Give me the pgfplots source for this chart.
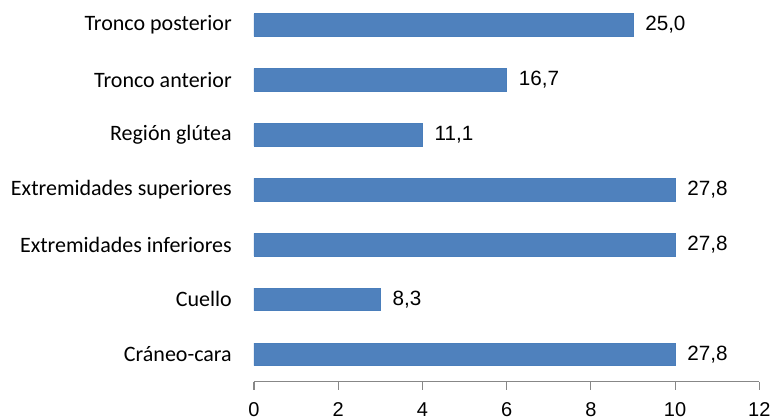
\documentclass[border=0pt]{standalone}
\usepackage{fontspec}
\setmainfont{Liberation Sans}
\newfontfamily\carlito{Carlito}
\usepackage{pgfplots}
\pgfplotsset{compat=1.18}
\definecolor{barblue}{HTML}{4F81BD}
\definecolor{baredge}{HTML}{4A7EBB}
\definecolor{axgray}{HTML}{878787}
\begin{document}
\begin{tikzpicture}
\useasboundingbox (-190.5pt,-27.975pt) rectangle (389.25pt,286.275pt);
\begin{axis}[
  at={(0,0)}, anchor=south west,
  scale only axis, width=379pt, height=286.275pt,
  xbar, bar width=16.9pt,
  xmin=0, xmax=12, ymin=-0.5, ymax=6.456,
  xtick={0,2,...,12},
  ytick={0,...,6},
  yticklabels={Cráneo-cara, Cuello, Extremidades inferiores, Extremidades superiores, Región glútea, Tronco anterior, Tronco posterior},
  axis lines*=left,
  y axis line style={draw=none},
  x axis line style={draw=axgray, line width=0.8pt},
  ytick style={draw=none},
  xtick style={draw=axgray, line width=0.8pt},
  tick align=outside,
  major tick length=6pt,
  /pgf/number format/assume math mode=true,
  yticklabel style={font=\carlito\fontsize{16.5}{18}\selectfont, inner sep=0pt, xshift=-10.5pt},
  xticklabel style={font=\fontsize{15}{18}\selectfont, inner sep=0pt, yshift=-9.5pt},
  nodes near coords,
  point meta=explicit symbolic,
  nodes near coords style={font=\fontsize{15.5}{18}\selectfont, anchor=west, inner sep=0pt, xshift=9pt},
]
\addplot[fill=barblue, draw=baredge] table[x=x, y=y, meta=lab] {
x y lab
10 0 {27,8}
3 1 {8,3}
10 2 {27,8}
10 3 {27,8}
4 4 {11,1}
6 5 {16,7}
9 6 {25,0}
};
\end{axis}
\end{tikzpicture}
\end{document}
